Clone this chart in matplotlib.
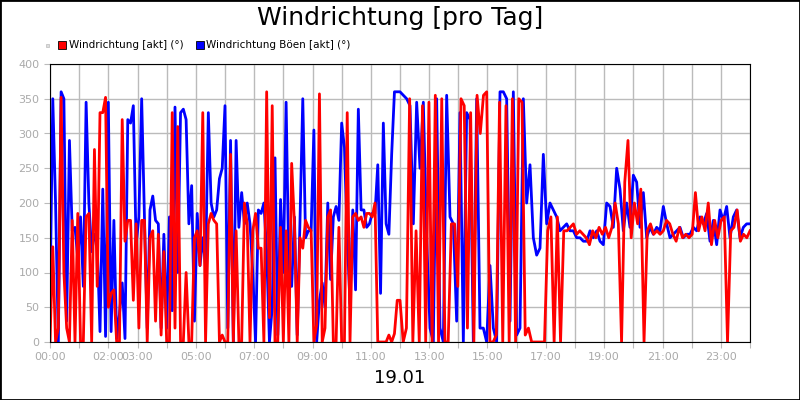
import numpy as np
import matplotlib.pyplot as plt
from matplotlib.patches import Rectangle

# ----------------------------------------------------------------------
#   Data (degrees)
# ----------------------------------------------------------------------
red_am = [0,137,0,20,352,100,20,0,175,0, 185,0,0,180,185,0,277,80,330,330,
          352,50,70,75,0,0,320,145,175,175, 60,170,20,175,175,0,150,160,30,155,
          10,130,0,0,330,20,310,0,0,100, 0,0,150,160,110,330,0,170,185,175,
          170,0,10,0,0,270,0,160,0,0, 200,170,0,160,185,135,135,0,360,35,
          340,0,0,165,0,160,0,257,170,0, 150,135,175,165,160,0,25,357,0,20,
          180,190,0,0,165,0,0,330,0,180, 185,175,180,165,185,185,180,200,0,0,
          0,0,10,0,12,60]
red_pm = [60,0,20,350,0,160,0,340,0,345, 0,355,0,350,0,0,170,170,80,350,
          340,20,330,0,355,300,355,360,0,0, 10,345,0,340,0,350,0,350,345,10,
          20,0,0,0,0,0,160,180,0,180, 0,160,160,165,170,155,160,155,150,140,
          160,150,165,155,165,150,165,200,170,0, 230,290,150,200,170,220,0,160,170,155,
          160,155,160,175,170,155,145,165,150,155, 150,155,215,160,180,160,200,140,175,150,
          175,180,0,160,165,190,145,155,150,160]
blue_am = [60,350,200,0,360,350,30,290,160,165, 120,180,80,345,200,130,155,140,15,220,
           8,345,15,175,5,40,85,5,320,315, 340,140,180,350,180,20,190,210,175,170,
           20,155,20,180,45,338,100,330,335,320, 170,225,30,185,110,150,110,330,200,180,
           190,235,250,340,20,290,0,290,165,215, 170,200,170,100,0,190,185,200,130,0,
           50,265,10,205,100,345,100,80,180,10, 175,350,150,160,160,305,0,60,85,50,
           200,90,180,195,175,315,280,150,55,190, 75,335,190,190,165,170,185,185,255,70,
           315,170,155,270,360,360]
blue_pm = [360,355,350,340,170,345,250,345,150,20, 0,350,20,0,355,180,170,30,330,0,
           330,320,0,350,20,20,0,110,20,0, 360,360,350,30,360,10,20,350,200,255,
           150,125,135,270,170,200,190,180,160,165, 170,160,160,150,150,145,145,160,150,160,
           145,140,200,195,165,250,220,160,200,165, 240,230,165,215,150,165,155,165,160,195,
           170,150,155,160,165,150,155,155,165,160, 180,170,185,145,175,140,190,175,195,150,
           180,190,150,165,170,170]
tick_labels = {0: '00:00', 2: '02:00', 3: '03:00', 5: '05:00', 7: '07:00', 9: '09:00',
               11: '11:00', 13: '13:00', 15: '15:00', 17: '17:00', 19: '19:00',
               21: '21:00', 23: '23:00'}


def series(am, pm):
    t = np.concatenate([np.linspace(0, 12, len(am), endpoint=False),
                        np.linspace(12, 24, len(pm))])
    return t, np.array(am + pm)


fig = plt.figure(figsize=(8, 4), dpi=100)
fig.patches.append(Rectangle((0, 0), 1, 1, transform=fig.transFigure, fill=False,
                             edgecolor='black', linewidth=2))
ax = fig.add_axes([0.0625, 0.145, 0.875, 0.695])

t, b = series(blue_am, blue_pm)
ax.plot(t, b, color='#0000ff', lw=2)
t, r = series(red_am, red_pm)
ax.plot(t, r, color='#ff0000', lw=2)

ax.set_xlim(0, 24)
ax.set_ylim(0, 400)
ax.set_yticks(np.arange(0, 401, 50))
ax.set_xticks(np.arange(0, 25, 1))
ax.set_xticklabels([tick_labels.get(h, '') for h in range(25)])
ax.grid(True, color='#bbbbbb', lw=1)
ax.set_axisbelow(True)
ax.tick_params(colors='#bbbbbb', labelcolor='#aaaaaa', labelsize=8, length=4)
for s in ax.spines.values():
    s.set_color('black')

fig.text(0.5, 0.955, 'Windrichtung [pro Tag]', ha='center', va='center', fontsize=18)
fig.text(0.5, 0.055, '19.01', ha='center', va='center', fontsize=13)

# legend
fig.patches.append(Rectangle((0.0575, 0.883), 0.004, 0.008, transform=fig.transFigure,
                             facecolor='#dddddd', edgecolor='#bbbbbb', lw=0.5))
for x0, col, lab in [(0.073, '#ff0000', 'Windrichtung [akt] (°)'),
                     (0.245, '#0000ff', 'Windrichtung Böen [akt] (°)')]:
    fig.patches.append(Rectangle((x0, 0.878), 0.01, 0.02, transform=fig.transFigure,
                                 facecolor=col, edgecolor='black', lw=0.6))
    fig.text(x0 + 0.013, 0.888, lab, va='center', fontsize=7.5)

fig.savefig('out.png')
